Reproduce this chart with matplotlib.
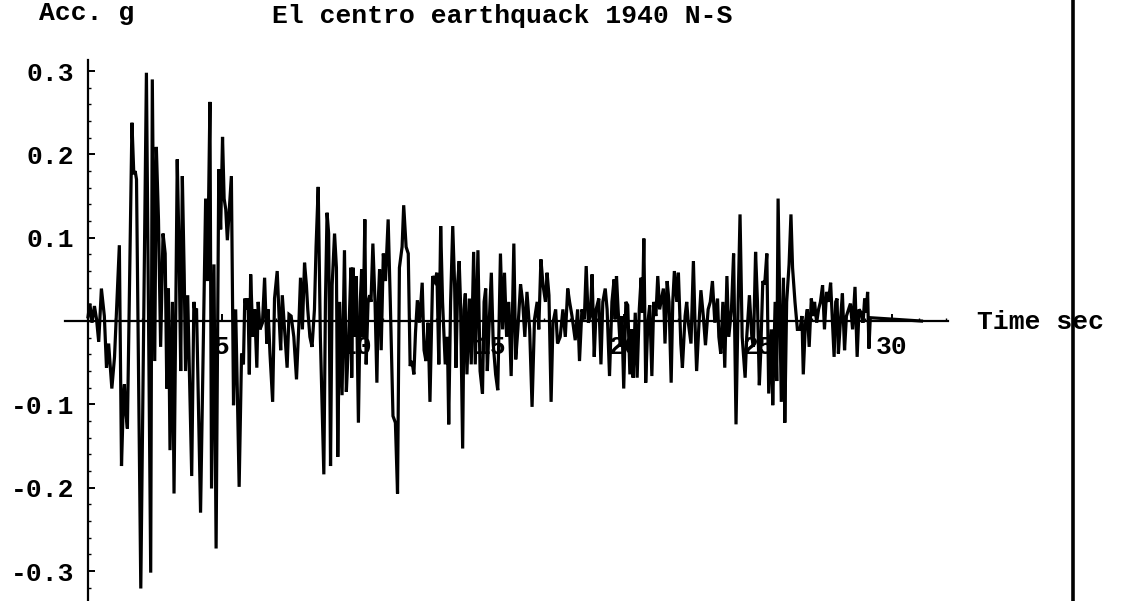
import matplotlib.pyplot as plt
from matplotlib.lines import Line2D
from matplotlib.ticker import FixedLocator, MultipleLocator

# acceleration peaks (time s, acc g), 5 s at a time
rec_0_5 = [
    (0.00, 0.005), (0.07, 0.021), (0.15, -0.002), (0.24, 0.018), (0.32, 0.002),
    (0.40, -0.025), (0.50, 0.039), (0.61, 0.006), (0.69, -0.056), (0.77, -0.027),
    (0.89, -0.081), (0.99, -0.043), (1.17, 0.091), (1.25, -0.174), (1.33, -0.085),
    (1.36, -0.076), (1.39, -0.101), (1.47, -0.129), (1.64, 0.238), (1.71, 0.176),
    (1.76, 0.180), (1.81, 0.170), (1.97, -0.321), (2.18, 0.298), (2.34, -0.302),
    (2.40, 0.290), (2.49, -0.048), (2.55, 0.209), (2.63, 0.122), (2.71, -0.031),
    (2.80, 0.105), (2.88, 0.081), (2.94, -0.081), (3.00, 0.039), (3.06, -0.155),
    (3.15, 0.023), (3.21, -0.207), (3.33, 0.194), (3.40, 0.081), (3.46, -0.060),
    (3.52, 0.174), (3.59, 0.056), (3.64, -0.060), (3.72, 0.031), (3.87, -0.186),
    (3.95, 0.023), (4.01, 0.005), (4.05, 0.015), (4.20, -0.230), (4.39, 0.147),
    (4.46, 0.048), (4.55, 0.263), (4.61, -0.201), (4.70, 0.068), (4.78, -0.273),
    (4.88, 0.182),
]
rec_5_10 = [
    (4.95, 0.110), (5.02, 0.221), (5.08, 0.147), (5.14, 0.134), (5.20, 0.097),
    (5.35, 0.174), (5.43, -0.101), (5.51, 0.014), (5.57, -0.081), (5.64, -0.199),
    (5.73, -0.039), (5.80, -0.052), (5.85, 0.027), (5.92, 0.014), (5.97, 0.027),
    (6.02, -0.064), (6.07, 0.056), (6.15, -0.019), (6.22, 0.014), (6.30, -0.056),
    (6.35, 0.023), (6.42, -0.010), (6.51, -0.002), (6.59, 0.052), (6.67, -0.027),
    (6.72, 0.014), (6.79, -0.039), (6.89, -0.097), (6.96, 0.027), (7.06, 0.060),
    (7.14, -0.002), (7.19, -0.035), (7.25, 0.031), (7.31, 0.002), (7.43, -0.056),
    (7.50, 0.008), (7.58, 0.006), (7.68, -0.019), (7.78, -0.070), (7.87, -0.002),
    (7.93, 0.052), (8.00, -0.010), (8.08, 0.070), (8.15, 0.043), (8.20, 0.014),
    (8.28, -0.019), (8.36, -0.031), (8.45, 0.014), (8.51, 0.089), (8.59, 0.161),
    (8.67, -0.019), (8.80, -0.184), (8.86, 0.023), (8.92, 0.130), (8.98, 0.105),
    (9.05, -0.174), (9.11, 0.043), (9.20, 0.105), (9.27, 0.064), (9.32, -0.163),
    (9.39, 0.023), (9.48, -0.089), (9.57, 0.085), (9.64, -0.085), (9.73, -0.019),
    (9.81, 0.064),
]
rec_10_15 = [
    (9.84, -0.068), (9.89, 0.064), (9.96, -0.019), (10.01, 0.054), (10.09, -0.122),
    (10.16, 0.023), (10.21, 0.062), (10.26, -0.019), (10.33, 0.122), (10.38, -0.052),
    (10.45, 0.023), (10.51, 0.031), (10.56, 0.023), (10.63, 0.093), (10.71, 0.023),
    (10.78, -0.074), (10.83, 0.023), (10.88, 0.062), (10.94, -0.035), (11.02, 0.081),
    (11.10, 0.048), (11.20, 0.122), (11.28, 0.023), (11.38, -0.114), (11.47, -0.122),
    (11.55, -0.207), (11.62, 0.064), (11.72, 0.089), (11.78, 0.139), (11.87, 0.089),
    (11.95, 0.081), (12.02, -0.054), (12.09, -0.048), (12.16, -0.064), (12.22, -0.014),
    (12.29, 0.025), (12.37, -0.002), (12.47, 0.046), (12.54, -0.035), (12.61, -0.048),
    (12.69, -0.002), (12.76, -0.097), (12.86, 0.054), (12.94, 0.048), (13.02, 0.058),
    (13.09, -0.052), (13.16, 0.114), (13.23, 0.023), (13.33, -0.052), (13.41, -0.019),
    (13.46, -0.124), (13.53, 0.023), (13.61, 0.114), (13.68, 0.043), (13.73, -0.056),
    (13.80, 0.048), (13.85, 0.072), (13.90, 0.023), (13.98, -0.153), (14.03, 0.014),
    (14.08, 0.033), (14.14, -0.064), (14.23, 0.027), (14.30, -0.052), (14.39, 0.083),
    (14.45, -0.052), (14.55, 0.085), (14.63, -0.060), (14.72, -0.087),
]
rec_15_20 = [
    (14.78, 0.023), (14.84, 0.039), (14.90, -0.060), (14.96, -0.010), (15.05, 0.058),
    (15.12, -0.027), (15.21, -0.064), (15.29, -0.083), (15.39, 0.081), (15.47, -0.010),
    (15.54, 0.058), (15.62, -0.019), (15.70, 0.023), (15.79, -0.066), (15.89, 0.093),
    (15.96, -0.046), (16.04, -0.010), (16.14, 0.044), (16.22, 0.023), (16.30, -0.019),
    (16.38, 0.035), (16.48, -0.010), (16.57, -0.103), (16.66, 0.002), (16.76, 0.023),
    (16.82, -0.010), (16.90, 0.074), (16.98, 0.043), (17.07, 0.023), (17.13, 0.058),
    (17.20, 0.031), (17.28, -0.097), (17.35, -0.002), (17.45, 0.014), (17.52, -0.027),
    (17.62, -0.019), (17.72, 0.014), (17.81, -0.019), (17.90, 0.039), (17.97, 0.023),
    (18.06, 0.006), (18.18, -0.023), (18.27, 0.014), (18.34, -0.048), (18.43, 0.014),
    (18.52, 0.002), (18.59, 0.066), (18.67, -0.002), (18.74, 0.006), (18.81, 0.056),
    (18.89, -0.043), (18.96, 0.014), (19.06, 0.027), (19.14, -0.052), (19.21, 0.023),
    (19.30, 0.039), (19.37, 0.014), (19.46, -0.066), (19.55, 0.023), (19.63, 0.050),
]
rec_20_25 = [
    (19.67, 0.002), (19.72, 0.054), (19.78, 0.014), (19.86, -0.031), (19.92, 0.006),
    (19.99, -0.081), (20.07, 0.023), (20.14, 0.019), (20.22, -0.064), (20.29, -0.010),
    (20.34, -0.068), (20.42, 0.010), (20.49, -0.068), (20.57, 0.014), (20.64, 0.052),
    (20.69, 0.010), (20.74, 0.099), (20.81, -0.074), (20.89, -0.002), (20.96, 0.019),
    (21.04, -0.066), (21.11, 0.023), (21.19, 0.006), (21.26, 0.054), (21.33, 0.014),
    (21.38, 0.023), (21.47, 0.039), (21.53, -0.027), (21.61, 0.048), (21.68, 0.023),
    (21.76, -0.074), (21.82, 0.023), (21.88, 0.060), (21.97, 0.023), (22.03, 0.058),
    (22.12, -0.027), (22.18, -0.056), (22.28, 0.006), (22.34, 0.023), (22.40, -0.002),
    (22.50, -0.027), (22.59, 0.072), (22.65, -0.002), (22.71, -0.060), (22.80, -0.002),
    (22.87, 0.037), (22.96, 0.006), (23.04, -0.029), (23.14, 0.014), (23.22, 0.023),
    (23.30, 0.048), (23.39, -0.002), (23.49, 0.027), (23.54, -0.019), (23.61, -0.039),
    (23.69, 0.023), (23.76, -0.056), (23.84, 0.054), (23.91, -0.019), (24.01, 0.014),
    (24.09, 0.081), (24.18, -0.124), (24.26, 0.023), (24.33, 0.128), (24.41, -0.019),
    (24.47, -0.045),
]
rec_25_31 = [
    (24.52, -0.068), (24.58, -0.019), (24.68, 0.031), (24.77, -0.019), (24.83, -0.031),
    (24.91, 0.083), (24.98, 0.023), (25.05, -0.077), (25.10, -0.039), (25.18, 0.048),
    (25.25, 0.044), (25.33, 0.081), (25.40, -0.087), (25.50, -0.010), (25.55, -0.101),
    (25.64, 0.023), (25.70, -0.072), (25.75, 0.147), (25.80, 0.043), (25.87, -0.097),
    (25.95, 0.052), (26.00, -0.122), (26.07, 0.023), (26.16, 0.068), (26.23, 0.128),
    (26.29, 0.064), (26.38, 0.023), (26.47, -0.010), (26.57, -0.010), (26.64, 0.006),
    (26.69, -0.064), (26.77, -0.002), (26.84, 0.014), (26.91, -0.031), (26.99, 0.027),
    (27.06, 0.006), (27.11, 0.023), (27.19, -0.002), (27.26, 0.014), (27.33, 0.023),
    (27.41, 0.043), (27.48, -0.010), (27.56, 0.035), (27.63, 0.023), (27.71, 0.046),
    (27.78, -0.002), (27.84, -0.043), (27.90, 0.023), (27.95, 0.027), (28.00, -0.039),
    (28.08, 0.002), (28.15, 0.033), (28.23, -0.035), (28.30, 0.006), (28.38, 0.014),
    (28.45, 0.021), (28.53, -0.010), (28.62, 0.041), (28.70, -0.043), (28.77, 0.014),
    (28.85, 0.010), (28.92, -0.002), (28.98, 0.027), (29.04, 0.010), (29.09, 0.035),
    (29.14, -0.033), (29.19, 0.004), (31.10, 0.000),
]

x_major = [5, 10, 15, 20, 25, 30]
y_major = [-0.3, -0.2, -0.1, 0.1, 0.2, 0.3]
y_labels = ["-0.3", "-0.2", "-0.1", "0.1", "0.2", "0.3"]

record = rec_0_5 + rec_5_10 + rec_10_15 + rec_15_20 + rec_20_25 + rec_25_31
t = [p[0] for p in record]
acc = [p[1] for p in record]

font = dict(family="Liberation Mono", weight="bold", size=19)

W, H = 1121, 601
fig = plt.figure(figsize=(W / 100, H / 100), dpi=100)
# axes placed so that t=0 is at x=88 px and a=0 at y=321 px
ax = fig.add_axes([65 / W, 0, 883 / W, 541 / H])
ax.set_xlim(-0.858, 32.09)
ax.set_ylim(-0.336, 0.3133)

ax.plot(t, acc, color="black", lw=2.3, solid_joinstyle="miter")

for s in ["top", "right"]:
    ax.spines[s].set_visible(False)
ax.spines["left"].set_position(("data", 0))
ax.spines["bottom"].set_position(("data", 0))
for s in ["left", "bottom"]:
    ax.spines[s].set_linewidth(1.6)
ax.set_axisbelow(True)

ax.xaxis.set_major_locator(FixedLocator(x_major))
ax.xaxis.set_minor_locator(MultipleLocator(1))
ax.set_xticklabels([str(v) for v in x_major], **font)
ax.yaxis.set_major_locator(FixedLocator(y_major))
ax.yaxis.set_minor_locator(MultipleLocator(0.02))
ax.set_yticklabels(y_labels, **font)
ax.tick_params(which="major", direction="in", length=5, width=1.4, pad=10)
ax.tick_params(which="minor", direction="in", length=2.5, width=1.0)

fig.text(39 / W, 1 - 13 / H, "Acc. g", ha="left", va="center", **font)
fig.text(272 / W, 1 - 16 / H, "El centro earthquack 1940 N-S",
         ha="left", va="center", **font)
fig.text(977 / W, 1 - 322 / H, "Time sec", ha="left", va="center", **font)

# page edge line at the right
fig.add_artist(Line2D([1073 / W, 1073 / W], [0, 1], color="black", lw=2.6,
                      transform=fig.transFigure))

fig.savefig("out.png", dpi=100)
